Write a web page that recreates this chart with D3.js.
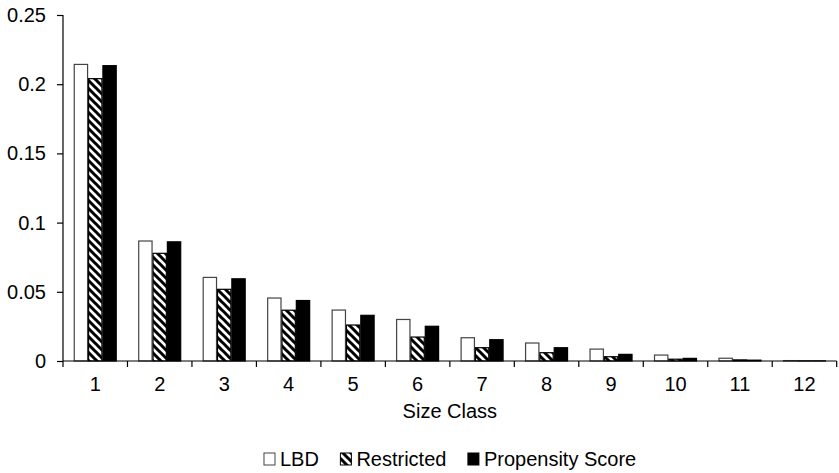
<!DOCTYPE html>
<html>
<head>
<meta charset="utf-8">
<script src="https://cdn.jsdelivr.net/npm/d3@7"></script>
<style>
  html, body { margin: 0; padding: 0; background: #fff; }
  svg { display: block; font-family: "Liberation Sans", Arial, sans-serif; }
</style>
</head>
<body>
<svg id="chart" width="839" height="473"></svg>
<script>
// Size classes along the x axis
const sizeClasses = ["1", "2", "3", "4", "5", "6", "7", "8", "9", "10", "11", "12"];

// Share of establishments per size class, one array per series
const lbd        = [0.2143, 0.0867, 0.0604, 0.0455, 0.0368, 0.0300, 0.0168, 0.0130, 0.0086, 0.0043, 0.0020, 0.0003];
const restricted = [0.2040, 0.0778, 0.0518, 0.0367, 0.0260, 0.0173, 0.0096, 0.0060, 0.0031, 0.0013, 0.0008, 0.0001];
const propensity = [0.2134, 0.0861, 0.0594, 0.0437, 0.0330, 0.0251, 0.0154, 0.0096, 0.0048, 0.0019, 0.0006, 0.0001];

const seriesNames = ["LBD", "Restricted", "Propensity Score"];
const yTicks = [0, 0.05, 0.1, 0.15, 0.2, 0.25];
const yTickLabels = ["0", "0.05", "0.1", "0.15", "0.2", "0.25"];
const xTitle = "Size Class";

const series = [
  { name: seriesNames[0], values: lbd },
  { name: seriesNames[1], values: restricted },
  { name: seriesNames[2], values: propensity }
];

const FONT = 20;
const svg = d3.select("#chart");
const margin = { left: 63, right: 2.3, top: 15, bottom: 112 };
const W = 839, H = 473;
const plotW = W - margin.left - margin.right;
const plotH = H - margin.top - margin.bottom;

const defs = svg.append("defs");
const hatch = defs.append("pattern")
  .attr("id", "hatch")
  .attr("patternUnits", "userSpaceOnUse")
  .attr("width", 8).attr("height", 8);
hatch.append("rect").attr("width", 8).attr("height", 8).attr("fill", "#fff");
hatch.append("path")
  .attr("d", "M-2,-2 L10,10 M-2,6 L2,10 M6,-2 L10,2")
  .attr("stroke", "#000").attr("stroke-width", 3);

const fills = ["#fff", "url(#hatch)", "#000"];
const strokes = ["#444", "#000", "#000"];

const g = svg.append("g").attr("transform", `translate(${margin.left},${margin.top})`);

const x = d3.scaleBand().domain(sizeClasses).range([0, plotW]).paddingInner(0).paddingOuter(0);
const groupPad = x.bandwidth() / 6;
const x1 = d3.scaleBand().domain(seriesNames)
  .range([groupPad, x.bandwidth() - groupPad]).padding(0);
const y = d3.scaleLinear().domain([0, 0.25]).range([plotH, 0]);

// bars
series.forEach((s, si) => {
  g.append("g").selectAll("rect")
    .data(s.values)
    .join("rect")
    .attr("x", (d, i) => x(sizeClasses[i]) + x1(s.name) + 0.5)
    .attr("y", d => y(d))
    .attr("width", x1.bandwidth() - 1)
    .attr("height", d => Math.max(0, y(0) - y(d)))
    .attr("fill", fills[si])
    .attr("stroke", strokes[si])
    .attr("stroke-width", 1.2);
});

// y axis
const yAxis = d3.axisLeft(y).tickValues(yTicks)
  .tickFormat((d, i) => yTickLabels[i]).tickSize(6).tickPadding(11);
const ya = g.append("g").call(yAxis);
ya.select(".domain").attr("stroke", "#000").attr("stroke-width", 1.2).attr("d", `M0,${plotH}V0`);
ya.selectAll(".tick line").attr("stroke", "#000").attr("stroke-width", 1.2);
ya.selectAll(".tick text").attr("font-size", FONT).attr("fill", "#000")
  .attr("font-family", "Liberation Sans, Arial, sans-serif");

// x axis with ticks at category boundaries
const xa = g.append("g").attr("transform", `translate(0,${plotH})`);
xa.append("line").attr("x1", 0).attr("x2", plotW).attr("y1", 0).attr("y2", 0)
  .attr("stroke", "#000").attr("stroke-width", 1.2);
const boundaries = sizeClasses.map(c => x(c)).concat([x.range()[1]]);
xa.selectAll("line.tk").data(boundaries).join("line").attr("class", "tk")
  .attr("x1", d => d).attr("x2", d => d).attr("y1", 0).attr("y2", 6)
  .attr("stroke", "#000").attr("stroke-width", 1.2);
xa.selectAll("text.lbl").data(sizeClasses).join("text").attr("class", "lbl")
  .attr("x", d => x(d) + x.bandwidth() / 2)
  .attr("y", 30)
  .attr("text-anchor", "middle")
  .attr("font-size", FONT)
  .attr("fill", "#000")
  .text(d => d);

// x axis title
g.append("text")
  .attr("x", plotW / 2).attr("y", plotH + 57)
  .attr("text-anchor", "middle")
  .attr("font-size", FONT).attr("fill", "#000")
  .text(xTitle);

// legend, centred under the plot area
const legend = svg.append("g");
let cx = 0;
const GAP = 21;
series.forEach((s, si) => {
  const it = legend.append("g").attr("transform", `translate(${cx},0)`);
  it.append("rect").attr("x", 0.5).attr("y", -13).attr("width", 11).attr("height", 12)
    .attr("fill", fills[si]).attr("stroke", strokes[si]).attr("stroke-width", 1);
  const t = it.append("text").attr("x", 16.5).attr("y", 0)
    .attr("font-size", FONT).attr("fill", "#000").text(s.name);
  const w = t.node().getComputedTextLength();
  cx += 16.5 + w + GAP;
});
const total = cx - GAP;
legend.attr("transform", `translate(${margin.left + plotW / 2 - total / 2},${466})`);
</script>
</body>
</html>
